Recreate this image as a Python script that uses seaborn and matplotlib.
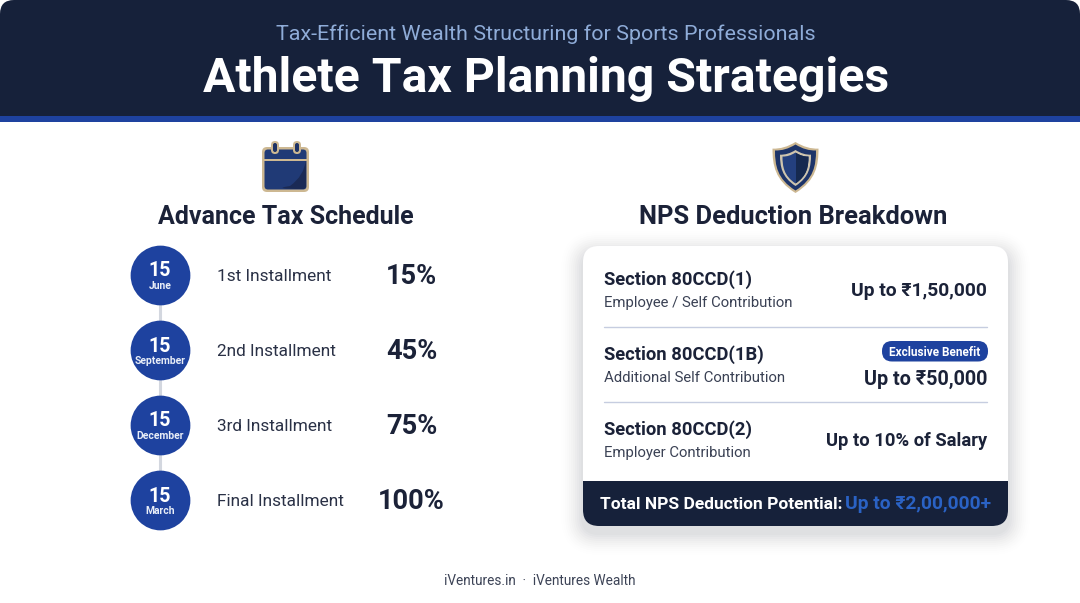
import matplotlib
matplotlib.use('Agg')
from matplotlib import pyplot as plt
from matplotlib.patches import FancyBboxPatch, PathPatch, Rectangle
from matplotlib.path import Path
import seaborn as sns
import pandas as pd
import numpy as np

# chart content
subtitle = 'Tax-Efficient Wealth Structuring for Sports Professionals'
title = 'Athlete Tax Planning Strategies'
left_heading = 'Advance Tax Schedule'
right_heading = 'NPS Deduction Breakdown'
footer = 'iVentures.in  ·  iVentures Wealth'

due_days = ['15', '15', '15', '15']
due_months = ['June', 'September', 'December', 'March']
installments = ['1st Installment', '2nd Installment', '3rd Installment', 'Final Installment']
cumulative_pct = [15, 45, 75, 100]

sections = ['Section 80CCD(1)', 'Section 80CCD(1B)', 'Section 80CCD(2)']
section_notes = ['Employee / Self Contribution', 'Additional Self Contribution', 'Employer Contribution']
section_limits = ['Up to ₹1,50,000', 'Up to ₹50,000', 'Up to 10% of Salary']
badge_text = 'Exclusive Benefit'
total_label = 'Total NPS Deduction Potential:'
total_value = 'Up to ₹2,00,000+'

NAVY = '#16213a'
BLUE = '#1e429f'
BRIGHT = '#2a62c4'
INK = '#1b2238'
GOLD = '#cdb892'

sns.set_theme(style='white')
plt.rcParams['font.family'] = ['Roboto', 'DejaVu Sans']

fig = plt.figure(figsize=(10.8, 6.03), dpi=100, facecolor='white')
ax = fig.add_axes([0, 0, 1, 1])
ax.set_xlim(0, 1080)
ax.set_ylim(603, 0)
ax.axis('off')
renderer = fig.canvas.get_renderer()


def fit(s, width, weight='normal'):
    # font size that makes s come out width pixels wide
    t = ax.text(0, 0, s, fontsize=20, fontweight=weight)
    w = t.get_window_extent(renderer).width
    t.remove()
    return 20 * width / w


def label(x, y, s, size, color=INK, weight='normal', ha='left', **kw):
    return ax.text(x, y, s, fontsize=size, color=color, fontweight=weight,
                   ha=ha, va='baseline', zorder=10, **kw)


def rbox(x0, y0, x1, y1, r, color, **kw):
    p = FancyBboxPatch((x0 + r, y0 + r), x1 - x0 - 2 * r, y1 - y0 - 2 * r,
                       boxstyle='round,pad=%g,rounding_size=%g' % (r, r),
                       fc=color, ec='none', **kw)
    ax.add_patch(p)
    return p


######## header #########
head = rbox(0, 0, 1080, 150, 14, NAVY, zorder=1)
head.set_clip_path(Rectangle((0, 0), 1080, 118, transform=ax.transData))
ax.add_patch(Rectangle((0, 116), 1080, 6, fc=BLUE, ec='none', zorder=2))
label(545.5, 40, subtitle, fit(subtitle, 539), color='#8facd8', ha='center')
label(546, 92, title, fit(title, 684, 'bold'), color='white', weight='bold', ha='center')

######## calendar icon #########
rbox(262, 147, 309, 192, 5, GOLD, zorder=3)
rbox(264.5, 149.5, 306.5, 189.5, 3.5, '#203a76', zorder=4)
swoosh = Path([(306, 160), (304, 176), (290, 186), (270, 189), (303, 189), (306, 189), (306, 186), (306, 160)],
              [Path.MOVETO, Path.CURVE3, Path.CURVE3, Path.CURVE3, Path.LINETO, Path.CURVE3, Path.CURVE3, Path.CLOSEPOLY])
ax.add_patch(PathPatch(swoosh, fc='#1a2a55', ec='none', zorder=5))
ax.add_patch(Rectangle((264, 159), 43, 2.2, fc=GOLD, ec='none', zorder=6))
for rx in (275, 297):
    rbox(rx - 4, 141, rx + 4, 154, 4, GOLD, zorder=6)
    rbox(rx - 2, 143, rx + 2, 152, 2, '#1d3265', zorder=7)

######## shield icon #########


def shield(cx, top, half, h, fc, z):
    v = [(cx, top), (cx - half * 0.5, top + h * 0.14), (cx - half, top + h * 0.13),
         (cx - half, top + h * 0.45), (cx - half * 0.9, top + h * 0.75), (cx, top + h),
         (cx + half * 0.9, top + h * 0.75), (cx + half, top + h * 0.45), (cx + half, top + h * 0.13),
         (cx + half * 0.5, top + h * 0.14), (cx, top), (cx, top)]
    c = [Path.MOVETO, Path.CURVE3, Path.CURVE3, Path.CURVE4, Path.CURVE4, Path.CURVE4, Path.CURVE4,
         Path.CURVE4, Path.CURVE4, Path.CURVE3, Path.CURVE3, Path.CLOSEPOLY]
    p = PathPatch(Path(v, c), fc=fc, ec='none', zorder=z)
    ax.add_patch(p)
    return p


shield(795.5, 142, 23, 51, GOLD, 3)
shield(795.5, 144.5, 20.5, 46, '#1d3469', 4)
shield(795.5, 150, 15.5, 36, '#cfc5ae', 5)
shield(795.5, 152.5, 13, 31, '#24407f', 6)
half = shield(795.5, 152.5, 13, 31, '#16294f', 7)
half.set_clip_path(Rectangle((795.5, 150), 20, 40, transform=ax.transData))

######## headings #########
label(285.5, 224, left_heading, fit(left_heading, 255, 'bold'), weight='bold', ha='center')
label(793.5, 224, right_heading, fit(right_heading, 307, 'bold'), weight='bold', ha='center')

######## schedule #########
rows = np.arange(len(installments))
schedule = pd.DataFrame({'x': 160, 'y': 275 + 75 * rows})
sns.lineplot(data=schedule, x='x', y='y', ax=ax, color='#d3d7df', lw=2.2, zorder=3,
             estimator=None, sort=False, legend=False)
sns.scatterplot(data=schedule, x='x', y='y', ax=ax, color=BLUE, s=1850, linewidth=0,
                zorder=4, legend=False)
ax.set_xlim(0, 1080)
ax.set_ylim(603, 0)
ax.axis('off')

day_size = fit('15', 22.5, 'bold')
month_size = fit('September', 51, 'bold')
inst_size = fit('Final Installment', 127)
pct_size = fit('100%', 67, 'bold')
for i in rows:
    y = schedule['y'][i]
    label(160, y + 1.5, due_days[i], day_size, color='white', weight='bold', ha='center')
    label(160, y + 14, due_months[i], month_size, color='#e8edf7', weight='bold', ha='center')
    label(217, y + 6, installments[i], inst_size, color='#2a3146')
    label(411.5, y + 9, '%d%%' % cumulative_pct[i], pct_size, weight='bold', ha='center')

######## card #########
for grow, a in zip(np.arange(22, 0, -2), np.linspace(0.004, 0.02, 11)):
    rbox(583 - grow, 246 - grow + 7, 1008 + grow, 526 + grow + 7, 16 + grow, '#1b2238', alpha=a, zorder=1)
rbox(583, 246, 1008, 526, 16, 'white', zorder=2)
band = rbox(583, 440, 1008, 526, 16, NAVY, zorder=3)
band.set_clip_path(Rectangle((583, 481), 425, 50, transform=ax.transData))

sec_size = fit(sections[0], 148, 'bold')
note_size = fit(section_notes[0], 189)
limit_widths = [136, 123, 161]
limit_base = [296, 385, 446]
for i in range(len(sections)):
    top = 285 + 75 * i
    label(604, top, sections[i], sec_size, weight='bold')
    label(604, top + 22, section_notes[i], note_size, color='#3a4154')
    label(987, limit_base[i], section_limits[i], fit(section_limits[i], limit_widths[i], 'bold'),
          weight='bold', ha='right')
    if i < 2:
        ax.plot([604, 987], [326.5 + 75 * i, 326.5 + 75 * i], color='#c6cde0', lw=1, zorder=4)

rbox(882, 341, 988, 361.5, 10, BLUE, zorder=4)
label(935, 355.5, badge_text, fit(badge_text, 91, 'bold'), color='white', weight='bold', ha='center')
label(600, 509, total_label, fit(total_label, 242, 'bold'), color='white', weight='bold')
label(991, 509, total_value, fit(total_value, 145, 'bold'), color=BRIGHT, weight='bold', ha='right')

######## footer #########
label(540, 585, footer, fit(footer, 192), color='#3c4356', ha='center')

fig.savefig('out.png', dpi=100, facecolor='white')
